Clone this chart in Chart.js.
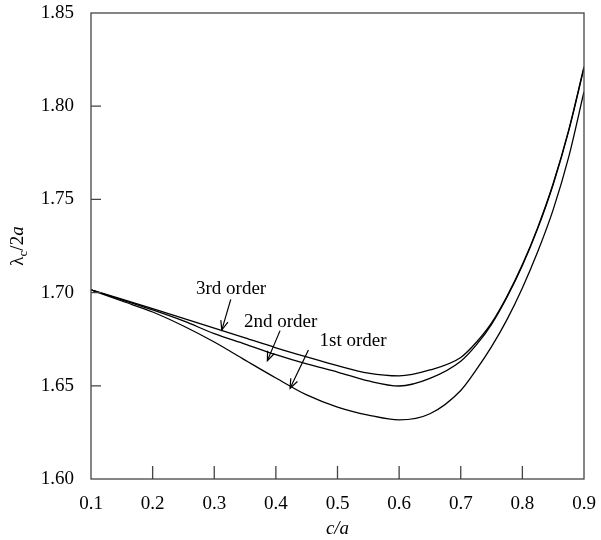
<!DOCTYPE html>
<html>
<head>
<meta charset="utf-8">
<script src="https://cdn.jsdelivr.net/npm/chart.js@4/dist/chart.umd.min.js"></script>
<style>
  html,body{margin:0;padding:0;background:#fff;}
  #wrap{width:601px;height:540px;}
</style>
</head>
<body>
<div id="wrap"><canvas id="cv" width="601" height="540"></canvas></div>
<script>
// c/a sample points
let ca = [0.10,0.15,0.20,0.25,0.30,0.35,0.40,0.45,0.50,0.55,0.60,0.65,0.70,0.725,0.75,0.775,0.80,0.825,0.85,0.875,0.90];
// lambda_c/2a for each order
let first  = [1.7015,1.6955,1.6896,1.6821,1.6735,1.6638,1.6542,1.6451,1.6386,1.6343,1.6317,1.6350,1.6475,1.6585,1.6710,1.6855,1.7025,1.7220,1.7445,1.7725,1.8078];
let second = [1.7015,1.6961,1.6907,1.6848,1.6780,1.6724,1.6667,1.6617,1.6574,1.6526,1.6499,1.6540,1.6632,1.6718,1.6830,1.6975,1.7145,1.7345,1.7580,1.7865,1.8205];
let third  = [1.7015,1.6965,1.6914,1.6862,1.6810,1.6757,1.6704,1.6655,1.6608,1.6568,1.6553,1.6585,1.6652,1.6732,1.6837,1.6980,1.7150,1.7350,1.7585,1.7870,1.8212];

let xTicks = [0.1,0.2,0.3,0.4,0.5,0.6,0.7,0.8,0.9];
let yTicks = [1.60,1.65,1.70,1.75,1.80,1.85];

// labels with arrows, in data units
let notes = [
  { text:"3rd order", at:[0.3273,1.6993], from:[0.3268,1.6964], to:[0.3122,1.6799] },
  { text:"2nd order", at:[0.4076,1.6815], from:[0.4068,1.6796], to:[0.3862,1.6635] },
  { text:"1st order", at:[0.5253,1.6714], from:[0.4528,1.6692], to:[0.4231,1.6487] }
];

const SERIF = "'Liberation Serif','Times New Roman',serif";

function pts(ys){ return ca.map((c,i)=>({x:c,y:ys[i]})); }
function ds(label, ys){
  return { label, data:pts(ys), borderColor:"#000", borderWidth:1.3, pointRadius:0,
           fill:false, cubicInterpolationMode:'monotone' };
}

const frame = {
  id:'frame',
  afterDraw(chart){
    const {ctx, chartArea:a, scales:{x,y}} = chart;
    ctx.save();
    ctx.strokeStyle="#444"; ctx.lineWidth=1.3;
    ctx.strokeRect(a.left,a.top,a.right-a.left,a.bottom-a.top);
    ctx.beginPath();
    xTicks.slice(1,-1).forEach(v=>{let p=x.getPixelForValue(v); ctx.moveTo(p,a.bottom); ctx.lineTo(p,a.bottom-13);});
    yTicks.slice(1,-1).forEach(v=>{let p=y.getPixelForValue(v); ctx.moveTo(a.left,p); ctx.lineTo(a.left+10,p);});
    ctx.stroke();

    // annotations
    ctx.fillStyle="#000"; ctx.strokeStyle="#000"; ctx.lineWidth=1.2;
    ctx.font="19px "+SERIF; ctx.textAlign="center"; ctx.textBaseline="alphabetic";
    notes.forEach(n=>{
      ctx.fillText(n.text, x.getPixelForValue(n.at[0]), y.getPixelForValue(n.at[1]));
      let x1=x.getPixelForValue(n.from[0]), y1=y.getPixelForValue(n.from[1]);
      let x2=x.getPixelForValue(n.to[0]), y2=y.getPixelForValue(n.to[1]);
      let ang=Math.atan2(y2-y1,x2-x1), L=10, w=0.38;
      ctx.beginPath(); ctx.moveTo(x1,y1); ctx.lineTo(x2,y2); ctx.stroke();
      ctx.beginPath();
      ctx.moveTo(x2-L*Math.cos(ang-w), y2-L*Math.sin(ang-w));
      ctx.lineTo(x2,y2);
      ctx.lineTo(x2-L*Math.cos(ang+w), y2-L*Math.sin(ang+w));
      ctx.stroke();
    });

    // y axis title: lambda_c / 2a
    let parts=[
      {t:"\u03bb", f:"19px "+SERIF, dy:0},
      {t:"c", f:"13px "+SERIF, dy:4},
      {t:"/2", f:"19px "+SERIF, dy:0},
      {t:"a", f:"italic 19px "+SERIF, dy:0}
    ];
    let tot=0; parts.forEach(p=>{ctx.font=p.f; p.w=ctx.measureText(p.t).width; tot+=p.w;});
    ctx.translate(23,(a.top+a.bottom)/2); ctx.rotate(-Math.PI/2);
    ctx.textAlign="left";
    let cx=-tot/2;
    parts.forEach(p=>{ctx.font=p.f; ctx.fillText(p.t,cx,p.dy); cx+=p.w;});
    ctx.restore();
  }
};

new Chart(document.getElementById("cv"), {
  type:'line',
  data:{ datasets:[ ds("1st order",first), ds("2nd order",second), ds("3rd order",third) ] },
  options:{
    responsive:false, animation:false,
    layout:{ padding:{ top:13, right:17, left:0, bottom:0 } },
    plugins:{ legend:{display:false}, tooltip:{enabled:false} },
    scales:{
      x:{ type:'linear', min:0.1, max:0.9,
          afterFit:s=>{ s.height=61; s.paddingLeft=0; s.paddingRight=0; },
          afterBuildTicks:s=>{ s.ticks=xTicks.map(v=>({value:v})); },
          grid:{ display:false, drawTicks:false },
          border:{ display:false },
          ticks:{ padding:14, color:"#000", font:{family:SERIF,size:19}, callback:v=>v.toFixed(1) },
          title:{ display:true, text:"c/a", color:"#000", font:{family:SERIF,size:19,style:'italic'}, padding:{top:0,bottom:0} } },
      y:{ min:1.6, max:1.85,
          afterFit:s=>{ s.width=91; s.paddingTop=0; s.paddingBottom=0; },
          afterBuildTicks:s=>{ s.ticks=yTicks.map(v=>({value:v})); },
          grid:{ display:false, drawTicks:false },
          border:{ display:false },
          ticks:{ padding:17, color:"#000", font:{family:SERIF,size:19}, callback:v=>v.toFixed(2) } }
    }
  },
  plugins:[frame]
});
</script>
</body>
</html>
